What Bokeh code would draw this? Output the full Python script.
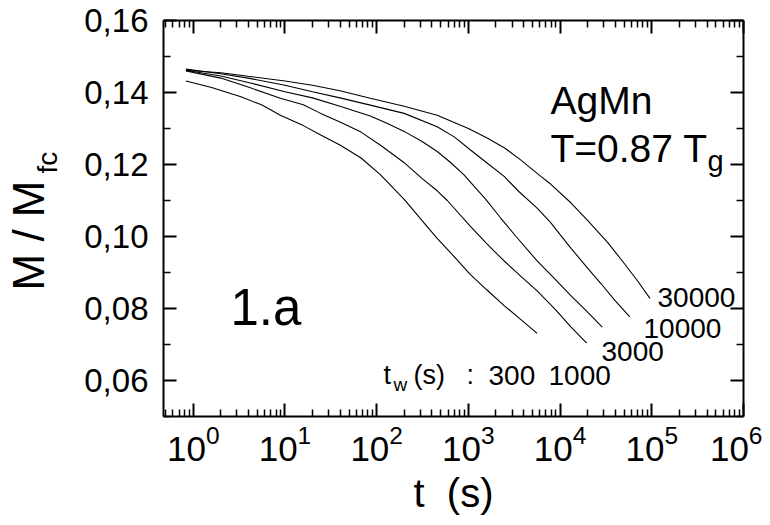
import numpy as np
from bokeh.plotting import figure
from bokeh.layouts import row
from bokeh.models import Range1d, LinearAxis, LogAxis, FixedTicker, Label, CustomJSTickFormatter
from bokeh.embed import file_html
from bokeh.resources import INLINE

# ---- data (log10 of t in s, and M/Mfc) ----
tw_labels = ["300", "1000", "3000", "10000", "30000"]

logt_300 = [-0.08, 0.2, 0.52, 0.75, 0.95, 1.2, 1.39, 1.6, 1.83, 2.04, 2.3, 2.5, 2.66, 2.85, 3.02, 3.2, 3.39, 3.57, 3.75]
m_300 = [0.1432, 0.1414, 0.1388, 0.1365, 0.1337, 0.1308, 0.1282, 0.1254, 0.1218, 0.1172, 0.1103, 0.1043, 0.0995, 0.0943, 0.0895, 0.0852, 0.0808, 0.0770, 0.0731]

logt_1000 = [-0.08, 0.3, 0.59, 0.95, 1.2, 1.39, 1.6, 1.83, 2.05, 2.3, 2.5, 2.66, 2.77, 3.02, 3.2, 3.39, 3.57, 3.75, 3.95, 4.12, 4.29]
m_1000 = [0.1460, 0.1440, 0.1416, 0.1384, 0.1366, 0.1342, 0.1318, 0.1290, 0.1252, 0.1205, 0.1160, 0.1127, 0.1100, 0.1029, 0.0980, 0.0932, 0.0890, 0.0849, 0.0797, 0.0748, 0.0704]

logt_3000 = [-0.08, 0.3, 0.6, 1.0, 1.3, 1.6, 1.93, 2.1, 2.3, 2.5, 2.66, 2.8, 2.95, 3.19, 3.35, 3.52, 3.75, 3.95, 4.12, 4.3, 4.46]
m_3000 = [0.1462, 0.1446, 0.1428, 0.1402, 0.1385, 0.1362, 0.1335, 0.1316, 0.1292, 0.1263, 0.1236, 0.1207, 0.1172, 0.1103, 0.1052, 0.1000, 0.0932, 0.0880, 0.0835, 0.0790, 0.0748]

logt_10000 = [-0.08, 0.3, 0.6, 1.0, 1.3, 1.6, 1.93, 2.3, 2.66, 2.85, 3.02, 3.2, 3.39, 3.55, 3.75, 3.9, 4.0, 4.12, 4.3, 4.45, 4.6, 4.76]
m_10000 = [0.1465, 0.1452, 0.1440, 0.1420, 0.1402, 0.1385, 0.1365, 0.1342, 0.1305, 0.1276, 0.1241, 0.1205, 0.1167, 0.1125, 0.1079, 0.1038, 0.1005, 0.0967, 0.0912, 0.0868, 0.0822, 0.0777]

logt_30000 = [-0.08, 0.3, 0.6, 1.0, 1.3, 1.6, 1.93, 2.3, 2.66, 3.0, 3.21, 3.4, 3.57, 3.79, 3.9, 4.12, 4.3, 4.52, 4.7, 4.85, 4.98]
m_30000 = [0.1462, 0.1455, 0.1445, 0.1432, 0.1420, 0.1405, 0.1384, 0.1362, 0.1337, 0.1300, 0.1273, 0.1245, 0.1213, 0.1167, 0.1145, 0.1093, 0.1045, 0.0983, 0.0925, 0.0875, 0.0828]

y_ticks = [0.06, 0.08, 0.10, 0.12, 0.14, 0.16]
y_minor = [0.05, 0.07, 0.09, 0.11, 0.13, 0.15]
x_exponents = [0, 1, 2, 3, 4, 5, 6]

FONT = "Liberation Sans"
H = 517
LEFT_W = 80
FL, FB = 163, 416   # frame left / bottom on the page

# ---------- narrow strip on the left carrying the y-axis title ----------
lf = figure(width=LEFT_W, height=H, x_range=Range1d(0, LEFT_W), y_range=Range1d(0, H),
            x_axis_location=None, y_axis_location=None, toolbar_location=None,
            output_backend="svg", min_border=0)
lf.xgrid.visible = False
lf.ygrid.visible = False
lf.outline_line_color = None
XSHIFT = 15
lf.add_layout(Label(x=43 - XSHIFT, y=FB - 290, x_units="screen", y_units="screen", text="M / M",
                    text_font=FONT, text_font_size="44px", text_color="black",
                    text_baseline="alphabetic", text_align="left", angle=np.pi / 2))
lf.add_layout(Label(x=62 - XSHIFT, y=FB - 173, x_units="screen", y_units="screen", text="fc",
                    text_font=FONT, text_font_size="28px", text_color="black",
                    text_baseline="alphabetic", text_align="left", angle=np.pi / 2))

# ---------- main plot ----------
p = figure(width=762 - LEFT_W, height=H, x_axis_type="log", output_backend="svg",
           toolbar_location=None,
           x_range=Range1d(0.474, 1e6), y_range=Range1d(0.05, 0.16),
           min_border_left=FL - LEFT_W, min_border_right=19, min_border_top=20,
           min_border_bottom=H - FB)
p.xgrid.visible = False
p.ygrid.visible = False
p.outline_line_color = None
p.background_fill_color = "white"
p.border_fill_color = "white"

x_major = [10.0 ** k for k in x_exponents]
x_minor = [m * 10.0 ** k for k in range(-1, 6) for m in range(2, 10)]
xt = FixedTicker(ticks=x_major, minor_ticks=x_minor)
yt = FixedTicker(ticks=y_ticks, minor_ticks=y_minor)

def style_axis(ax, labels=True):
    ax.axis_line_width = 2
    ax.axis_line_color = "black"
    ax.major_tick_in = 13
    ax.major_tick_out = 0
    ax.minor_tick_in = 7
    ax.minor_tick_out = 0
    ax.major_tick_line_width = 2
    ax.minor_tick_line_width = 1.5
    ax.major_tick_line_color = "black"
    ax.minor_tick_line_color = "black"
    if not labels:
        ax.major_label_text_font_size = "2px"
        ax.major_label_text_color = None
        ax.major_label_standoff = 0

bx = p.xaxis[0]
bx.ticker = xt
style_axis(bx)
bx.major_label_text_font = FONT
bx.major_label_text_font_size = "35px"
bx.major_label_text_color = "black"
bx.major_label_standoff = 8
bx.axis_label = "t\u00a0\u00a0(s)"
bx.axis_label_text_font = FONT
bx.axis_label_text_font_size = "40px"
bx.axis_label_text_font_style = "normal"
bx.axis_label_text_color = "black"
bx.axis_label_standoff = 7

ly = p.yaxis[0]
ly.ticker = yt
style_axis(ly)
ly.formatter = CustomJSTickFormatter(code="return tick.toFixed(2).replace('.', ',');")
ly.major_label_text_font = FONT
ly.major_label_text_font_size = "33px"
ly.major_label_text_color = "black"
ly.major_label_standoff = 15

tx = LogAxis(ticker=xt)
style_axis(tx, labels=False)
p.add_layout(tx, "above")

ry = LinearAxis(ticker=yt)
style_axis(ry, labels=False)
p.add_layout(ry, "right")

series = [(logt_300, m_300), (logt_1000, m_1000), (logt_3000, m_3000),
          (logt_10000, m_10000), (logt_30000, m_30000)]
for lt, m in series:
    p.line(10.0 ** np.array(lt), m, line_color="black", line_width=1.1)

# page coordinates -> screen units relative to the frame
def sx(px):
    return px - FL
def sy(py):
    return FB - py

def lab(text, px, py, size):
    p.add_layout(Label(x=sx(px), y=sy(py), x_units="screen", y_units="screen",
                       text=text, text_font=FONT, text_font_size=size,
                       text_color="black", text_baseline="alphabetic",
                       text_align="left"))

lab("1.a", 230, 307, "51px")
lab("AgMn", 550, 100, "39px")
lab("T=0.87 T", 550, 148, "39px")
lab("g", 707, 160, "29px")

lab("t", 383, 374, "27px")
lab("w", 393, 384, "19px")
lab("(s)", 413, 374, "27px")
lab(":", 466, 374, "27px")
lab(tw_labels[0], 488, 375, "28px")
lab(tw_labels[1], 548, 375, "28px")
lab(tw_labels[2], 601, 351, "28px")
lab(tw_labels[3], 643, 328, "28px")
lab(tw_labels[4], 657, 297, "28px")

layout = row(lf, p)
open("out.html", "w").write(file_html(layout, INLINE))
